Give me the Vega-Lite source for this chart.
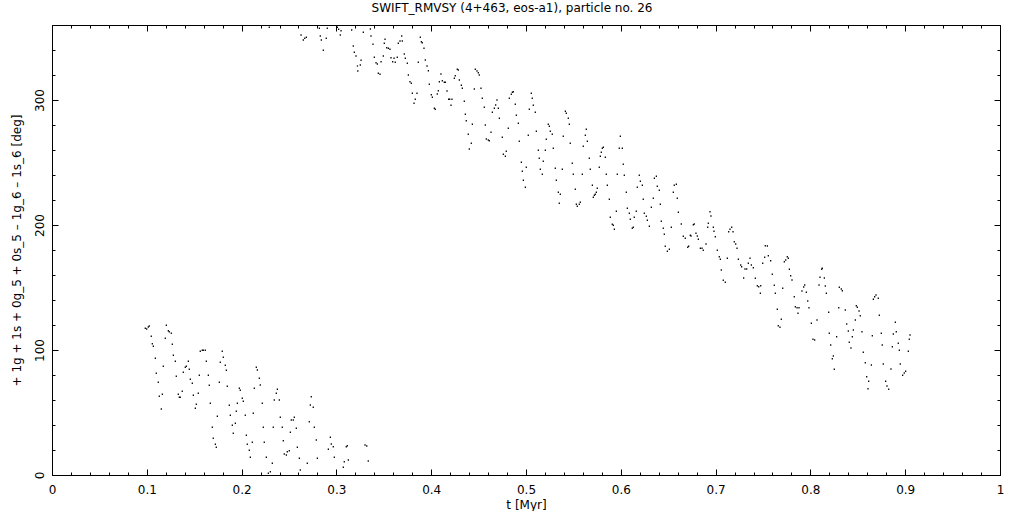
{
  "$schema": "https://vega.github.io/schema/vega-lite/v6.json",
  "width": 948,
  "height": 450,
  "autosize": "none",
  "padding": {"left": 52, "top": 25, "right": 21, "bottom": 36},
  "background": "white",
  "title": {"text": "SWIFT_RMVSY (4+463, eos-a1), particle no. 26", "font": "DejaVu Sans", "fontSize": 12, "fontWeight": "normal", "color": "black", "anchor": "middle", "offset": 10, "dx": -14},
  "config": {
    "view": {"stroke": "black", "strokeWidth": 1},
    "axis": {"domainColor": "black", "tickColor": "black", "labelColor": "black", "titleColor": "black", "labelFont": "DejaVu Sans", "titleFont": "DejaVu Sans", "labelFontSize": 12, "titleFontSize": 12, "titleFontWeight": "normal", "grid": false, "labelOverlap": false, "labelFlush": false}
  },
  "datasets": {
    "pts": [
      {"t":0.0984,"deg":117.4},{"t":0.0999,"deg":116.8},{"t":0.1016,"deg":118.4},{"t":0.1026,"deg":119.2},{"t":0.1047,"deg":111},{"t":0.1058,"deg":105},{"t":0.1069,"deg":103},{"t":0.109,"deg":93.4},{"t":0.11,"deg":81.4},{"t":0.1121,"deg":74.2},{"t":0.1132,"deg":63},{"t":0.1153,"deg":52.8},{"t":0.1164,"deg":64.6},{"t":0.1174,"deg":87},{"t":0.1195,"deg":109.4},{"t":0.1206,"deg":119.8},{"t":0.1227,"deg":115.4},{"t":0.1237,"deg":114.6},{"t":0.1258,"deg":113.4},{"t":0.1269,"deg":104.6},{"t":0.128,"deg":95.8},{"t":0.1301,"deg":91},{"t":0.1311,"deg":79},{"t":0.1332,"deg":64.6},{"t":0.1343,"deg":62.2},{"t":0.1353,"deg":62.2},{"t":0.1374,"deg":67},{"t":0.1385,"deg":82.2},{"t":0.1406,"deg":86.2},{"t":0.1417,"deg":87},{"t":0.1438,"deg":91},{"t":0.1448,"deg":84.6},{"t":0.1459,"deg":76.6},{"t":0.148,"deg":73.4},{"t":0.1491,"deg":63.8},{"t":0.1512,"deg":53.4},{"t":0.1522,"deg":56.6},{"t":0.1543,"deg":65.4},{"t":0.1554,"deg":79.8},{"t":0.1564,"deg":99},{"t":0.1585,"deg":99.8},{"t":0.1596,"deg":99.8},{"t":0.1617,"deg":99.8},{"t":0.1628,"deg":91},{"t":0.1649,"deg":79.8},{"t":0.1659,"deg":71.8},{"t":0.167,"deg":57.4},{"t":0.1691,"deg":38.2},{"t":0.1701,"deg":29.4},{"t":0.1723,"deg":24.6},{"t":0.1733,"deg":22.2},{"t":0.1744,"deg":47},{"t":0.1765,"deg":74.2},{"t":0.1775,"deg":90.2},{"t":0.1796,"deg":99},{"t":0.1807,"deg":94.2},{"t":0.1828,"deg":87.8},{"t":0.1839,"deg":83.8},{"t":0.1849,"deg":71},{"t":0.187,"deg":55.8},{"t":0.1881,"deg":47.8},{"t":0.1902,"deg":39.8},{"t":0.1912,"deg":33.4},{"t":0.1934,"deg":41.4},{"t":0.1944,"deg":51},{"t":0.1955,"deg":57.4},{"t":0.1976,"deg":69.4},{"t":0.1986,"deg":67.8},{"t":0.2007,"deg":61.4},{"t":0.2018,"deg":59},{"t":0.2039,"deg":47.8},{"t":0.205,"deg":31.8},{"t":0.206,"deg":24.6},{"t":0.2081,"deg":19.8},
      {"t":0.2092,"deg":14.2},{"t":0.2113,"deg":26.2},{"t":0.2123,"deg":49.4},{"t":0.2134,"deg":69.4},{"t":0.2155,"deg":86.2},{"t":0.2166,"deg":84},{"t":0.2187,"deg":77.4},{"t":0.2197,"deg":72},{"t":0.2218,"deg":57.4},{"t":0.2229,"deg":38.2},{"t":0.2239,"deg":26.2},{"t":0.2261,"deg":14.2},{"t":0.2282,"deg":1.4},{"t":0.2303,"deg":2.6},{"t":0.2324,"deg":9.4},{"t":0.2334,"deg":38.2},{"t":0.2345,"deg":60},{"t":0.2366,"deg":65.4},{"t":0.2377,"deg":68.6},{"t":0.2398,"deg":60},{"t":0.2408,"deg":46.2},{"t":0.2429,"deg":38.2},{"t":0.244,"deg":27.4},{"t":0.245,"deg":16.8},{"t":0.2472,"deg":16},{"t":0.2482,"deg":18.6},{"t":0.2503,"deg":19.4},{"t":0.2514,"deg":34.2},{"t":0.2524,"deg":44},{"t":0.2545,"deg":44},{"t":0.2556,"deg":46.2},{"t":0.2577,"deg":37.4},{"t":0.2588,"deg":22.2},{"t":0.2609,"deg":13.4},{"t":0.2619,"deg":4},{"t":0.2693,"deg":9.4},{"t":0.2714,"deg":42.6},{"t":0.2725,"deg":56},{"t":0.2735,"deg":62.6},{"t":0.2756,"deg":54.2},{"t":0.2767,"deg":38.2},{"t":0.2788,"deg":28},{"t":0.2799,"deg":13.4},{"t":0.2915,"deg":20.6},{"t":0.2936,"deg":30.2},{"t":0.2946,"deg":24.8},{"t":0.2967,"deg":22.6},{"t":0.2978,"deg":14.2},{"t":0.3073,"deg":6.2},{"t":0.3083,"deg":10.6},{"t":0.3104,"deg":22.6},{"t":0.3115,"deg":23.4},{"t":0.3126,"deg":12},{"t":0.3302,"deg":24},{"t":0.332,"deg":23.2},{"t":0.3336,"deg":11.2},
      {"t":0.2292,"deg":358.2},{"t":0.2627,"deg":352},{"t":0.2651,"deg":348},{"t":0.2666,"deg":349.4},{"t":0.2683,"deg":350.2},{"t":0.282,"deg":357.4},{"t":0.2904,"deg":357.4},{"t":0.283,"deg":351.2},{"t":0.2841,"deg":348},{"t":0.2893,"deg":349.4},{"t":0.2862,"deg":339.8},{"t":0.301,"deg":358.2},{"t":0.3024,"deg":356.6},{"t":0.3049,"deg":355.4},{"t":0.3041,"deg":352},{"t":0.3161,"deg":356},{"t":0.3178,"deg":343.2},{"t":0.3189,"deg":338.2},{"t":0.3207,"deg":335.2},{"t":0.3222,"deg":327.2},{"t":0.3226,"deg":323.2},{"t":0.3252,"deg":328},{"t":0.326,"deg":331.8},{"t":0.3284,"deg":354.2},{"t":0.3358,"deg":356.8},{"t":0.3365,"deg":351.2},{"t":0.3386,"deg":344.6},{"t":0.34,"deg":334.2},{"t":0.3418,"deg":329.8},{"t":0.3432,"deg":328.8},{"t":0.3442,"deg":321.4},{"t":0.346,"deg":320.6},{"t":0.3471,"deg":330.6},{"t":0.3495,"deg":335.2},{"t":0.3505,"deg":345.4},{"t":0.3513,"deg":348.6},{"t":0.3531,"deg":341.8},{"t":0.3548,"deg":341.4},{"t":0.3565,"deg":340.6},{"t":0.3576,"deg":333.8},{"t":0.3594,"deg":330.6},{"t":0.3608,"deg":333.4},{"t":0.3621,"deg":330.2},{"t":0.3642,"deg":334.2},{"t":0.3653,"deg":345.4},{"t":0.3671,"deg":347.2},{"t":0.3689,"deg":351.2},{"t":0.3695,"deg":347.2},{"t":0.3716,"deg":336.8},{"t":0.3727,"deg":333.4},{"t":0.3748,"deg":329.4},{"t":0.3759,"deg":320},{"t":0.3776,"deg":314.6},{"t":0.379,"deg":313.4},{"t":0.3801,"deg":305.4},{"t":0.385,"deg":305.4},{"t":0.3819,"deg":297.4},{"t":0.3832,"deg":300.6},{"t":0.3864,"deg":330.2},{"t":0.3885,"deg":350.2},{"t":0.3896,"deg":346.6},{"t":0.3906,"deg":345.8},{"t":0.3924,"deg":341.4},{"t":0.3938,"deg":332},{"t":0.3956,"deg":327.2},{"t":0.397,"deg":323.4},{"t":0.398,"deg":312.6},{"t":0.4001,"deg":304.2},{"t":0.4012,"deg":302.2},{"t":0.4033,"deg":293.4},{"t":0.4043,"deg":292.6},{"t":0.4064,"deg":304.8},{"t":0.4075,"deg":307.4},{"t":0.4086,"deg":314.6},{"t":0.4103,"deg":320.8},{"t":0.4117,"deg":315.4},{"t":0.4138,"deg":314.2},{"t":0.4149,"deg":314.2},{"t":0.4167,"deg":307.2},{"t":0.4184,"deg":300.6},{"t":0.4195,"deg":300.6},{"t":0.4219,"deg":300.6},{"t":0.4209,"deg":295.8},{"t":0.4244,"deg":317.4},{"t":0.4254,"deg":319.4},{"t":0.4275,"deg":324.6},{"t":0.4286,"deg":324},{"t":0.4297,"deg":316},{"t":0.4318,"deg":311.8},{"t":0.4328,"deg":309.4},{"t":0.4349,"deg":299},{"t":0.436,"deg":288.6},{"t":0.437,"deg":283.4},{"t":0.4391,"deg":272.6},{"t":0.4402,"deg":260.8},{"t":0.4423,"deg":265.4},{"t":0.4434,"deg":280.6},{"t":0.4455,"deg":308.8},{"t":0.4465,"deg":324.6},{"t":0.4483,"deg":323.2},{"t":0.4497,"deg":321.8},{"t":0.4507,"deg":320},{"t":0.4525,"deg":309.4},{"t":0.4539,"deg":301.4},{"t":0.456,"deg":294.2},{"t":0.4571,"deg":280},{"t":0.4581,"deg":268.8},{"t":0.4602,"deg":268},{"t":0.4613,"deg":267.4},{"t":0.4631,"deg":274.2},{"t":0.4645,"deg":290.2},{"t":0.4666,"deg":293.4},{"t":0.468,"deg":296},{"t":0.4694,"deg":300},{"t":0.4708,"deg":293.4},{"t":0.4719,"deg":285.4},
      {"t":0.475,"deg":270.2},{"t":0.4761,"deg":256.6},{"t":0.4782,"deg":255},{"t":0.4792,"deg":259},{"t":0.4813,"deg":277.4},{"t":0.4824,"deg":301.4},{"t":0.4845,"deg":304.6},{"t":0.4856,"deg":306.2},{"t":0.4866,"deg":306.6},{"t":0.4887,"deg":296.6},{"t":0.4898,"deg":287.8},{"t":0.4919,"deg":281.4},{"t":0.4929,"deg":267},{"t":0.4951,"deg":250.2},{"t":0.4961,"deg":243},{"t":0.4972,"deg":235.8},{"t":0.4993,"deg":230.2},{"t":0.5003,"deg":246.2},{"t":0.5024,"deg":271.8},{"t":0.5035,"deg":292.6},{"t":0.5056,"deg":305.4},{"t":0.5066,"deg":301.4},{"t":0.5077,"deg":295.8},{"t":0.5098,"deg":290.2},{"t":0.5109,"deg":275},{"t":0.513,"deg":259.8},{"t":0.514,"deg":253.4},{"t":0.5151,"deg":244.6},{"t":0.5172,"deg":240.6},{"t":0.5182,"deg":251},{"t":0.5204,"deg":259.8},{"t":0.5214,"deg":268.6},{"t":0.5235,"deg":280.6},{"t":0.5246,"deg":279},{"t":0.5256,"deg":275},{"t":0.5277,"deg":272.6},{"t":0.5288,"deg":261.4},{"t":0.5309,"deg":245.4},{"t":0.532,"deg":235.8},{"t":0.5341,"deg":226.2},{"t":0.5351,"deg":217.4},{"t":0.5362,"deg":224.6},{"t":0.5383,"deg":244.6},{"t":0.5393,"deg":271},{"t":0.5415,"deg":291},{"t":0.5425,"deg":289.4},{"t":0.5446,"deg":285.4},{"t":0.5457,"deg":280.6},{"t":0.5467,"deg":265.4},{"t":0.5488,"deg":249.4},{"t":0.5499,"deg":240.6},{"t":0.552,"deg":228.6},{"t":0.5531,"deg":216.6},{"t":0.5541,"deg":215},{"t":0.5562,"deg":216.6},{"t":0.5573,"deg":218.2},{"t":0.5594,"deg":240.6},{"t":0.5604,"deg":263},{"t":0.5626,"deg":271.8},{"t":0.5636,"deg":276.6},{"t":0.5647,"deg":267},{"t":0.5668,"deg":253.4},{"t":0.5678,"deg":244.6},{"t":0.57,"deg":231.8},{"t":0.571,"deg":222.2},{"t":0.5721,"deg":223.8},{"t":0.5731,"deg":224.6},{"t":0.5742,"deg":226.2},{"t":0.5752,"deg":229.4},{"t":0.5773,"deg":246.2},{"t":0.5784,"deg":255},{"t":0.5794,"deg":258.2},{"t":0.5805,"deg":261.4},{"t":0.5816,"deg":262.2},{"t":0.5837,"deg":254.2},{"t":0.5847,"deg":240.6},{"t":0.5858,"deg":231.8},{"t":0.5879,"deg":220.6},{"t":0.5889,"deg":206.2},{"t":0.591,"deg":200.6},{"t":0.5921,"deg":199.8},{"t":0.5932,"deg":196.6},{"t":0.5953,"deg":211},{"t":0.5963,"deg":240.6},{"t":0.5984,"deg":261.4},{"t":0.5995,"deg":271},{"t":0.6016,"deg":261.4},{"t":0.6026,"deg":248.6},{"t":0.6037,"deg":239.8},{"t":0.6058,"deg":226.2},{"t":0.6069,"deg":213.4},{"t":0.609,"deg":209.4},{"t":0.61,"deg":204.6},{"t":0.6121,"deg":197.4},{"t":0.6132,"deg":198.2},{"t":0.6142,"deg":206.2},{"t":0.6163,"deg":211},{"t":0.6174,"deg":230.2},{"t":0.6195,"deg":239.8},{"t":0.6206,"deg":235},{"t":0.6227,"deg":231.8},{"t":0.6237,"deg":220.6},{"t":0.6248,"deg":209.4},{"t":0.6269,"deg":207},{"t":0.628,"deg":203.8},{"t":0.6301,"deg":199},{"t":0.6322,"deg":214.2},{"t":0.6343,"deg":221.4},{"t":0.6354,"deg":237.4},{"t":0.6375,"deg":239},{"t":0.6385,"deg":231},{"t":0.6406,"deg":227.8},{"t":0.6417,"deg":216.6},{"t":0.6427,"deg":203},{"t":0.6448,"deg":197.4},{"t":0.6459,"deg":192.6},{"t":0.6469,"deg":183},{"t":0.6491,"deg":179},{"t":0.6512,"deg":180.6},{"t":0.6533,"deg":198.2},{"t":0.6554,"deg":226.2},{"t":0.6564,"deg":231.8},{"t":0.6586,"deg":232.6},{"t":0.6596,"deg":221.4},{"t":0.6607,"deg":210.2},
      {"t":0.6638,"deg":200.8},{"t":0.6659,"deg":191},{"t":0.668,"deg":189.4},{"t":0.6706,"deg":182.2},{"t":0.6716,"deg":183},{"t":0.6733,"deg":191.8},{"t":0.6741,"deg":191.2},{"t":0.6765,"deg":200.2},{"t":0.6775,"deg":200.8},{"t":0.6793,"deg":193.4},{"t":0.6807,"deg":191.2},{"t":0.6818,"deg":188.6},{"t":0.6839,"deg":181.4},{"t":0.6857,"deg":181.4},{"t":0.687,"deg":179.8},{"t":0.6899,"deg":184.8},{"t":0.6917,"deg":198.2},{"t":0.6923,"deg":201.4},{"t":0.6941,"deg":210.6},{"t":0.6951,"deg":207.2},{"t":0.6976,"deg":198.2},{"t":0.6983,"deg":195},{"t":0.6997,"deg":190.6},{"t":0.7018,"deg":179.8},{"t":0.7039,"deg":174.6},{"t":0.705,"deg":172.6},{"t":0.706,"deg":164},{"t":0.7081,"deg":155.8},{"t":0.7102,"deg":154.2},{"t":0.7124,"deg":173.4},{"t":0.7138,"deg":194.6},{"t":0.7152,"deg":196.6},{"t":0.717,"deg":198.2},{"t":0.7184,"deg":194.6},{"t":0.7197,"deg":186.6},{"t":0.7212,"deg":184.8},{"t":0.7226,"deg":181.4},{"t":0.724,"deg":172.6},{"t":0.7265,"deg":168},{"t":0.7275,"deg":166.6},{"t":0.7296,"deg":157.6},{"t":0.731,"deg":164.8},{"t":0.7328,"deg":164.8},{"t":0.7345,"deg":169.4},{"t":0.7363,"deg":173.4},{"t":0.7377,"deg":168},{"t":0.7398,"deg":165.8},{"t":0.7419,"deg":157.4},{"t":0.744,"deg":151.4},{"t":0.7455,"deg":150.6},{"t":0.7472,"deg":145.4},{"t":0.7476,"deg":151.4},{"t":0.7497,"deg":169.4},{"t":0.7518,"deg":174.2},{"t":0.7524,"deg":183.4},{"t":0.7546,"deg":183.2},{"t":0.7556,"deg":175.4},{"t":0.7581,"deg":171.4},{"t":0.7598,"deg":160.6},{"t":0.7619,"deg":151.8},{"t":0.763,"deg":145.4},{"t":0.7651,"deg":132.6},{"t":0.7661,"deg":119.4},{"t":0.7679,"deg":118.2},{"t":0.7693,"deg":124.6},{"t":0.7708,"deg":149.4},{"t":0.7725,"deg":170.6},{"t":0.774,"deg":172},{"t":0.7756,"deg":174.6},{"t":0.7767,"deg":173.4},{"t":0.7778,"deg":164.6},{"t":0.7792,"deg":159.4},{"t":0.7806,"deg":156},{"t":0.783,"deg":142.6},{"t":0.7841,"deg":134.6},{"t":0.7859,"deg":133.8},{"t":0.7869,"deg":129.4},{"t":0.788,"deg":133.8},{"t":0.7911,"deg":147.2},{"t":0.7929,"deg":150.4},{"t":0.794,"deg":152},{"t":0.7957,"deg":146.2},{"t":0.7972,"deg":139.2},{"t":0.7985,"deg":133.8},{"t":0.801,"deg":121.4},{"t":0.8027,"deg":108.6},{"t":0.8045,"deg":108},{"t":0.807,"deg":124},{"t":0.8091,"deg":152},{"t":0.8101,"deg":158.2},{"t":0.8119,"deg":164.6},{"t":0.8125,"deg":165.4},{"t":0.8147,"deg":157.6},{"t":0.8157,"deg":151.2},{"t":0.8168,"deg":145.4},{"t":0.8193,"deg":130.2},{"t":0.8199,"deg":113.4},{"t":0.8214,"deg":104},{"t":0.8231,"deg":93},{"t":0.8242,"deg":95.2},{"t":0.8252,"deg":84.6},{"t":0.8277,"deg":110.6},{"t":0.8299,"deg":133.8},{"t":0.8305,"deg":150.2},{"t":0.8326,"deg":148.8},{"t":0.8337,"deg":147.4},{"t":0.8368,"deg":132},{"t":0.8383,"deg":120.8},{"t":0.84,"deg":115.2},{"t":0.841,"deg":106.2},{"t":0.8428,"deg":101.6},{"t":0.8442,"deg":110.6},{"t":0.8453,"deg":116},{"t":0.8474,"deg":124},{"t":0.8484,"deg":135.4},{"t":0.8495,"deg":134.2},{"t":0.8513,"deg":131.2},{"t":0.8526,"deg":127.4},{"t":0.8544,"deg":114.6},{"t":0.8558,"deg":98.2},{"t":0.8579,"deg":89.8},{"t":0.8594,"deg":78.6},{"t":0.8608,"deg":69},{"t":0.8615,"deg":75},{"t":0.8643,"deg":88},{"t":0.8653,"deg":111.4},{"t":0.8664,"deg":140.6},{"t":0.8678,"deg":142.6},{"t":0.8692,"deg":144},{"t":0.8716,"deg":141.4},{"t":0.8727,"deg":127.8},{"t":0.8748,"deg":113.4},{"t":0.8758,"deg":104},{"t":0.8769,"deg":88.8},{"t":0.8794,"deg":75},{"t":0.8808,"deg":71.2},{"t":0.8826,"deg":68.6},{"t":0.885,"deg":84.8},{"t":0.8864,"deg":102.6},{"t":0.8875,"deg":112.8},{"t":0.8896,"deg":122.2},{"t":0.8906,"deg":114.6},{"t":0.8927,"deg":105.4},{"t":0.8938,"deg":99.8},{"t":0.8948,"deg":88.8},{"t":0.8973,"deg":79.8},{"t":0.899,"deg":81.6},{"t":0.9005,"deg":83},{"t":0.9033,"deg":99},{"t":0.9043,"deg":108.6},{"t":0.9051,"deg":112}
    ]
  },
  "data": {"name": "pts"},
  "resolve": {"axis": {"x": "independent", "y": "independent"}},
  "layer": [
    {
      "mark": {"type": "square", "size": 1.6, "color": "black", "opacity": 1, "filled": true},
      "encoding": {
        "x": {"field": "t", "type": "quantitative", "scale": {"domain": [0, 1], "nice": false, "zero": false},
          "axis": {"orient": "bottom", "title": "t [Myr]", "titlePadding": 1,
            "values": [0,0.02,0.04,0.06,0.08,0.1,0.12,0.14,0.16,0.18,0.2,0.22,0.24,0.26,0.28,0.3,0.32,0.34,0.36,0.38,0.4,0.42,0.44,0.46,0.48,0.5,0.52,0.54,0.56,0.58,0.6,0.62,0.64,0.66,0.68,0.7,0.72,0.74,0.76,0.78,0.8,0.82,0.84,0.86,0.88,0.9,0.92,0.94,0.96,0.98,1],
            "labelExpr": "abs(datum.value*10-round(datum.value*10))<0.001 ? format(datum.value,'~g') : ''",
            "tickSize": {"condition": {"test": "abs(datum.value*10-round(datum.value*10))<0.001", "value": -6}, "value": -3},
            "labelPadding": 15}},
        "y": {"field": "deg", "type": "quantitative", "scale": {"domain": [0, 360], "nice": false, "zero": false},
          "axis": {"orient": "left", "title": "+ 1g + 1s + 0g_5 + 0s_5 \u2013 1g_6 \u2013 1s_6 [deg]", "titlePadding": 7,
            "values": [0,20,40,60,80,100,120,140,160,180,200,220,240,260,280,300,320,340,360],
            "labelExpr": "datum.value % 100 == 0 ? datum.label : ''",
            "labelAngle": -90, "labelAlign": "center", "labelBaseline": "bottom",
            "tickSize": {"condition": {"test": "datum.value % 100 == 0", "value": -6}, "value": -3},
            "labelPadding": 12}}
      }
    },
    {
      "mark": {"type": "square", "size": 1.6, "opacity": 0},
      "encoding": {
        "x": {"field": "t", "type": "quantitative", "scale": {"domain": [0, 1], "nice": false, "zero": false},
          "axis": {"orient": "top", "title": null, "labels": false,
            "values": [0,0.02,0.04,0.06,0.08,0.1,0.12,0.14,0.16,0.18,0.2,0.22,0.24,0.26,0.28,0.3,0.32,0.34,0.36,0.38,0.4,0.42,0.44,0.46,0.48,0.5,0.52,0.54,0.56,0.58,0.6,0.62,0.64,0.66,0.68,0.7,0.72,0.74,0.76,0.78,0.8,0.82,0.84,0.86,0.88,0.9,0.92,0.94,0.96,0.98,1],
            "tickSize": {"condition": {"test": "abs(datum.value*10-round(datum.value*10))<0.001", "value": -6}, "value": -3}}},
        "y": {"field": "deg", "type": "quantitative", "scale": {"domain": [0, 360], "nice": false, "zero": false},
          "axis": {"orient": "right", "title": null, "labels": false,
            "values": [0,20,40,60,80,100,120,140,160,180,200,220,240,260,280,300,320,340,360],
            "tickSize": {"condition": {"test": "datum.value % 100 == 0", "value": -6}, "value": -3}}}
      }
    }
  ]
}
